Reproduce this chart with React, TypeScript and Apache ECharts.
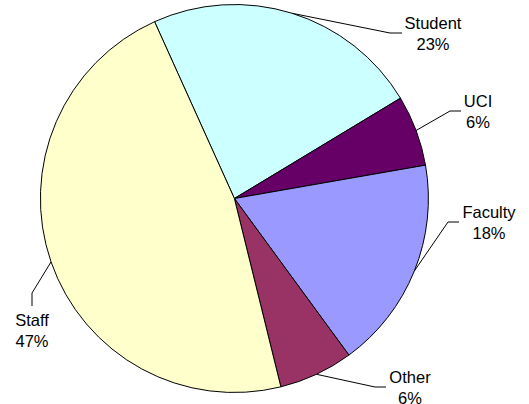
import React, { useEffect, useRef } from "react";
import * as echarts from "echarts";

const categories = ["Student", "UCI", "Faculty", "Other", "Staff"];
const values = [23.1, 5.9, 17.7, 6.2, 47.1];
const colors = ["#CCFFFF", "#660066", "#9999FF", "#993366", "#FFFFCC"];

// label anchor layout (centre of label block) and leader line bend/end points
const labelPos: Record<string, { x: number; y: number; bend: number[]; end: number[] }> = {
  Student: { x: 433, y: 33, bend: [390, 33], end: [402, 33] },
  UCI: { x: 478, y: 111, bend: [450, 111], end: [461, 111] },
  Faculty: { x: 489, y: 222, bend: [448, 222], end: [459, 222] },
  Other: { x: 410, y: 387, bend: [375, 387], end: [386, 387] },
  Staff: { x: 32, y: 330, bend: [32, 293], end: [32, 306] },
};

export default function App() {
  const ref = useRef<HTMLDivElement>(null);
  useEffect(() => {
    if (!ref.current) return;
    const chart = echarts.init(ref.current, undefined, { renderer: "svg" });
    chart.setOption({
      animation: false,
      backgroundColor: "#ffffff",
      series: [
        {
          type: "pie",
          center: [234.4, 198.5],
          radius: 194,
          startAngle: 114.3,
          clockwise: true,
          percentPrecision: 0,
          avoidLabelOverlap: false,
          data: categories.map((c, i) => ({
            name: c,
            value: values[i],
            itemStyle: { color: colors[i] },
          })),
          itemStyle: { borderColor: "#000000", borderWidth: 1 },
          label: {
            show: true,
            position: "outside",
            formatter: "{b}\n{d}%",
            fontFamily: "Liberation Sans, Arial, sans-serif",
            fontSize: 16.5,
            lineHeight: 21,
            color: "#000000",
            align: "center",
          },
          labelLine: {
            show: true,
            lineStyle: { color: "#000000", width: 1 },
          },
          emphasis: { disabled: true },
          labelLayout: (params: any) => {
            const name = categories[params.dataIndex];
            const p = labelPos[name];
            const start = params.labelLinePoints ? params.labelLinePoints[0] : p.bend;
            return {
              x: p.x,
              y: p.y,
              align: "center",
              verticalAlign: "middle",
              labelLinePoints: [start, p.bend, p.end],
            };
          },
        },
      ],
    });
    return () => chart.dispose();
  }, []);
  return (
    <div
      ref={ref}
      style={{ position: "fixed", left: 0, top: 0, width: 529, height: 404 }}
    />
  );
}
